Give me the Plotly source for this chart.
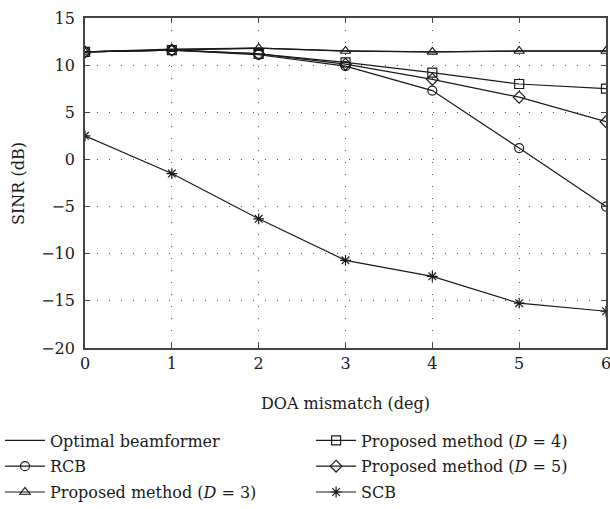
import plotly.graph_objects as go

x = [0, 1, 2, 3, 4, 5, 6]
optimal = [11.4, 11.6, 11.8, 11.5, 11.4, 11.5, 11.5]
rcb = [11.4, 11.6, 11.1, 9.9, 7.3, 1.2, -5.0]
d3 = [11.4, 11.7, 11.8, 11.5, 11.4, 11.5, 11.5]
d4 = [11.4, 11.6, 11.2, 10.3, 9.2, 8.0, 7.5]
d5 = [11.4, 11.6, 11.2, 10.1, 8.5, 6.6, 4.0]
scb = [2.5, -1.5, -6.3, -10.7, -12.4, -15.25, -16.1]

FONT = "DejaVu Serif"
FS = 16
C = "#1a1a1a"
AX = "#444444"

series = [
    ("Optimal beamformer", optimal, None, "legend"),
    ("RCB", rcb, "circle-open", "legend"),
    ("Proposed method (<i>D</i> = 3)", d3, "triangle-up-open", "legend"),
    ("Proposed method (<i>D</i> = 4)", d4, "square-open", "legend2"),
    ("Proposed method (<i>D</i> = 5)", d5, "diamond-open", "legend2"),
    ("SCB", scb, "asterisk-open", "legend2"),
]

fig = go.Figure()
for name, y, sym, lg in series:
    if sym is None:
        fig.add_trace(go.Scatter(x=x, y=y, name=name, mode="lines",
                                 line=dict(color=C, width=1.3), legend=lg,
                                 legendgroup=name))
    else:
        fig.add_trace(go.Scatter(x=x, y=y, name=name, mode="lines+markers",
                                 line=dict(color=C, width=1.2),
                                 marker=dict(symbol=sym, size=9, color=C,
                                             line=dict(color=C, width=1.2)),
                                 legend=lg, legendgroup=name))

axis_common = dict(
    showline=True, linecolor=AX, linewidth=1.5, mirror="ticks",
    ticks="inside", ticklen=5, tickcolor=AX,
    showgrid=True, gridcolor="#555555", griddash="1px,11px", gridwidth=1,
    zeroline=False, tickfont=dict(family=FONT, size=FS, color=C),
    ticklabeloverflow="allow",
)

fig.update_xaxes(range=[0, 6], dtick=1, **axis_common)
fig.update_yaxes(range=[-20, 15], dtick=5, ticksuffix=" ", **axis_common)

fig.add_annotation(text="SINR (dB)", textangle=-90, xref="paper", yref="paper",
                   x=-0.1286, y=0.5, xanchor="center", yanchor="middle",
                   showarrow=False, font=dict(family=FONT, size=FS, color=C))
fig.add_annotation(text="DOA mismatch (deg)", xref="paper", yref="paper",
                   x=0.5, y=-0.1667, xanchor="center", yanchor="middle",
                   showarrow=False, font=dict(family=FONT, size=FS, color=C))

leg_common = dict(orientation="v", xref="container", yref="container",
                  xanchor="left", yanchor="top",
                  font=dict(family=FONT, size=FS, color=C),
                  bgcolor="rgba(0,0,0,0)", tracegroupgap=2, itemwidth=40)

fig.update_layout(
    width=610, height=509,
    margin=dict(l=85, r=4, t=18, b=161, autoexpand=False),
    paper_bgcolor="white", plot_bgcolor="white",
    font=dict(family=FONT, size=FS, color=C),
    showlegend=True,
    legend=dict(x=0.0, y=0.168, **leg_common),
    legend2=dict(x=0.51, y=0.168, **leg_common),
)

fig.write_html("out.html")
